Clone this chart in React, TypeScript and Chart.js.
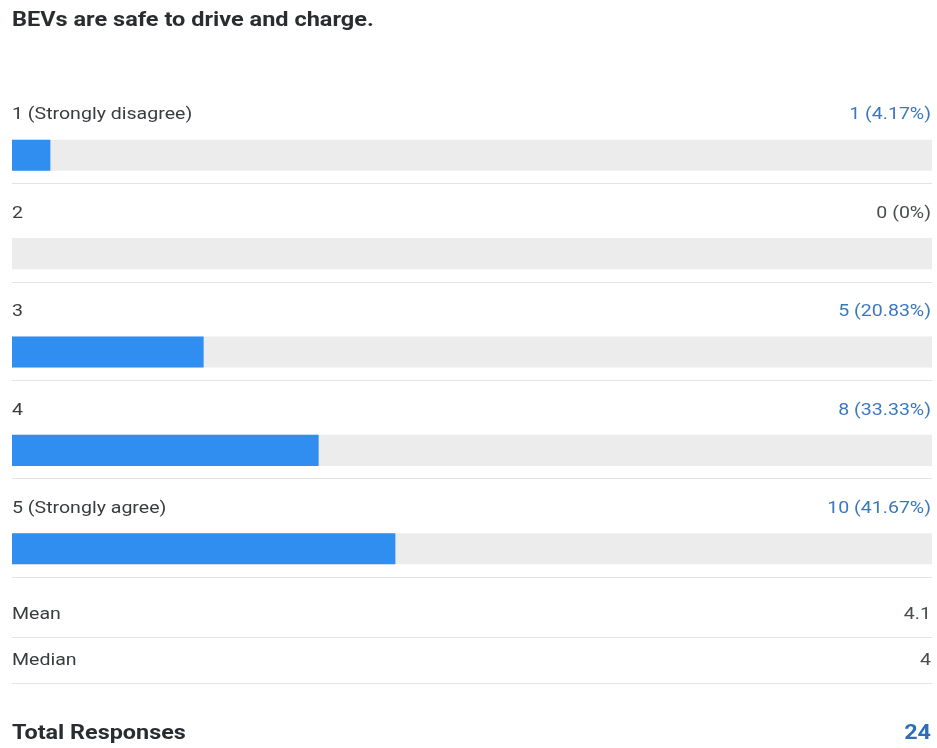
import React, { useEffect, useRef } from "react";
import { Chart, registerables } from "chart.js";

Chart.register(...registerables);

const title = "BEVs are safe to drive and charge.";
const categories = ["1 (Strongly disagree)", "2", "3", "4", "5 (Strongly agree)"];
const counts = [1, 0, 5, 8, 10];
const percents = [4.17, 0, 20.83, 33.33, 41.67];
const percentLabels = ["4.17%", "0%", "20.83%", "33.33%", "41.67%"];
const trackValues = [100, 100, 100, 100, 100];
const statLabels = ["Mean", "Median"];
const statValues = ["4.1", "4"];
const totalLabel = "Total Responses";
const totalValue = "24";

const FONT = "Roboto, 'Noto Sans', sans-serif";

function drawText(ctx: any, text: string, x: number, y: number, align: "left" | "right", font: string, color: string, sx: number) {
  ctx.save();
  ctx.font = font;
  ctx.fillStyle = color;
  ctx.textAlign = align;
  ctx.textBaseline = "middle";
  ctx.translate(x, y);
  ctx.scale(sx, 1);
  ctx.fillText(text, 0, 0);
  ctx.restore();
}

const textPlugin = {
  id: "surveyText",
  afterDatasetsDraw(chart: any) {
    const ctx = chart.ctx;
    const y = chart.scales.y;
    const left = chart.chartArea.left;
    const right = chart.chartArea.right;
    ctx.save();
    drawText(ctx, title, left, 21, "left", `bold 21px ${FONT}`, "#2a2d30", 1.12);

    const sep = (yy: number) => {
      ctx.strokeStyle = "#e3e3e3";
      ctx.lineWidth = 1;
      ctx.beginPath();
      ctx.moveTo(left, yy + 0.5);
      ctx.lineTo(right, yy + 0.5);
      ctx.stroke();
    };

    const lf = `17px ${FONT}`;
    categories.forEach((c, i) => {
      const cy = y.getPixelForValue(i);
      drawText(ctx, c, left, cy - 40, "left", lf, "#3a3d40", 1.15);
      drawText(
        ctx,
        `${counts[i]} (${percentLabels[i]})`,
        right - 1,
        cy - 40,
        "right",
        lf,
        counts[i] > 0 ? "#3a78c0" : "#4a4d50",
        1.15
      );
      sep(Math.round(cy + 28));
    });

    const last = y.getPixelForValue(categories.length - 1);
    const statYs = [last + 66, last + 112];
    statLabels.forEach((s, i) => {
      const sy = statYs[i];
      drawText(ctx, s, left, sy, "left", lf, "#3a3d40", 1.15);
      drawText(ctx, statValues[i], right - 1, sy, "right", lf, "#4a4d50", 1.15);
      sep(Math.round(sy + 22));
    });

    const ty = last + 185;
    drawText(ctx, totalLabel, left, ty, "left", `bold 20.5px ${FONT}`, "#2a2d30", 1.14);
    drawText(ctx, totalValue, right - 1, ty, "right", `bold 20.5px ${FONT}`, "#2f6db8", 1.14);
    ctx.restore();
  },
};

export default function App() {
  const ref = useRef<HTMLCanvasElement | null>(null);
  useEffect(() => {
    if (!ref.current) return;
    const chart = new Chart(ref.current, {
      type: "bar",
      data: {
        labels: categories,
        datasets: [
          {
            label: "Responses",
            data: percents,
            backgroundColor: "#2f8ef0",
            grouped: false,
            order: 0,
            barPercentage: 1,
            categoryPercentage: 0.316,
          } as any,
          {
            label: "Track",
            data: trackValues,
            backgroundColor: "#ececec",
            grouped: false,
            order: 1,
            barPercentage: 1,
            categoryPercentage: 0.316,
          } as any,
        ],
      },
      options: {
        indexAxis: "y",
        animation: false,
        responsive: false,
        maintainAspectRatio: false,
        layout: { padding: { left: 12, right: 5, top: 106, bottom: 150 } },
        plugins: { legend: { display: false }, tooltip: { enabled: false } },
        scales: {
          x: { display: false, min: 0, max: 100 },
          y: { display: false },
        },
      },
      plugins: [textPlugin],
    });
    return () => chart.destroy();
  }, []);
  return (
    <div style={{ position: "absolute", left: 0, top: 0, width: 937, height: 748, background: "#fff" }}>
      <canvas ref={ref} width={937} height={748} style={{ display: "block" }} />
    </div>
  );
}
